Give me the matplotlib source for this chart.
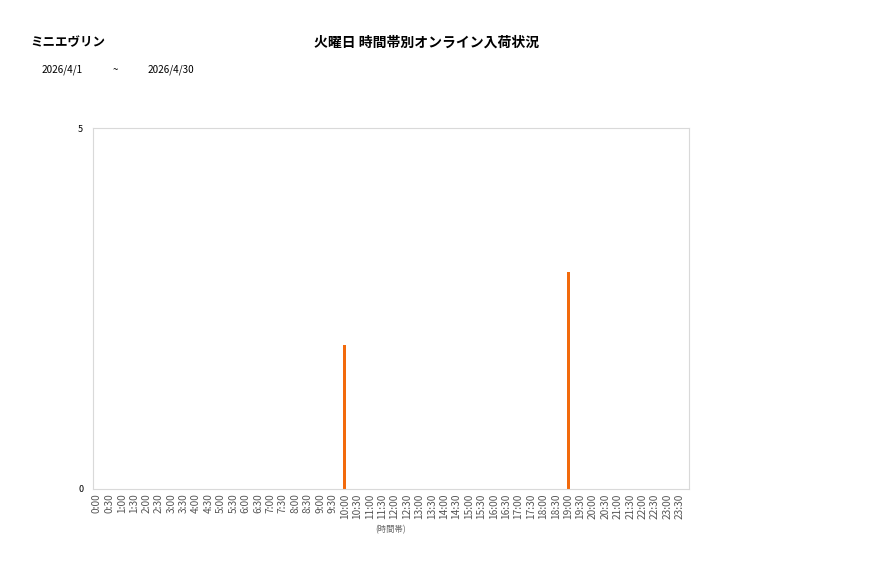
import numpy as np
import matplotlib.pyplot as plt

plt.rcParams['font.family'] = ['Noto Sans CJK JP', 'DejaVu Sans']

# data
slots = [f"{h}:{m:02d}" for h in range(24) for m in (0, 30)]
counts = [0] * 48
counts[slots.index("10:00")] = 2
counts[slots.index("19:00")] = 3

shop = "ミニエヴリン"
title = "火曜日 時間帯別オンライン入荷状況"
date_from = "2026/4/1"
date_to = "2026/4/30"

fig = plt.figure(figsize=(8.77, 5.78), dpi=100)
ax = fig.add_axes([93 / 877, 1 - 489 / 578, (689 - 93) / 877, (489 - 128) / 578])

x = np.arange(len(slots))
ax.bar(x, counts, width=0.25, color="#F26A0C")
ax.set_xlim(-0.315, 47.75)
ax.set_ylim(0, 5)
ax.set_yticks([0, 5])
ax.set_xticks(x)
ax.set_xticklabels(slots, rotation=90, fontsize=7.3, color="#555555")
ax.tick_params(axis="y", labelsize=6.5, length=0, pad=7)
ax.tick_params(axis="x", length=0, pad=3)
for s in ax.spines.values():
  s.set_color("#D9D9D9")
ax.set_xlabel("(時間帯)", fontsize=6, color="#666666", labelpad=5)

fig.text(30 / 877, 1 - 43 / 578, shop, fontsize=9, fontweight="bold", va="center", ha="left")
fig.text(427 / 877, 1 - 43 / 578, title, fontsize=10, fontweight="bold", va="center", ha="center")
fig.text(42 / 877, 1 - 70 / 578, date_from, fontsize=7.2, va="center", ha="left")
fig.text(113 / 877, 1 - 70 / 578, "~", fontsize=7, va="center", ha="left")
fig.text(148 / 877, 1 - 70 / 578, date_to, fontsize=7.2, va="center", ha="left")

fig.savefig("out.png", dpi=100)
